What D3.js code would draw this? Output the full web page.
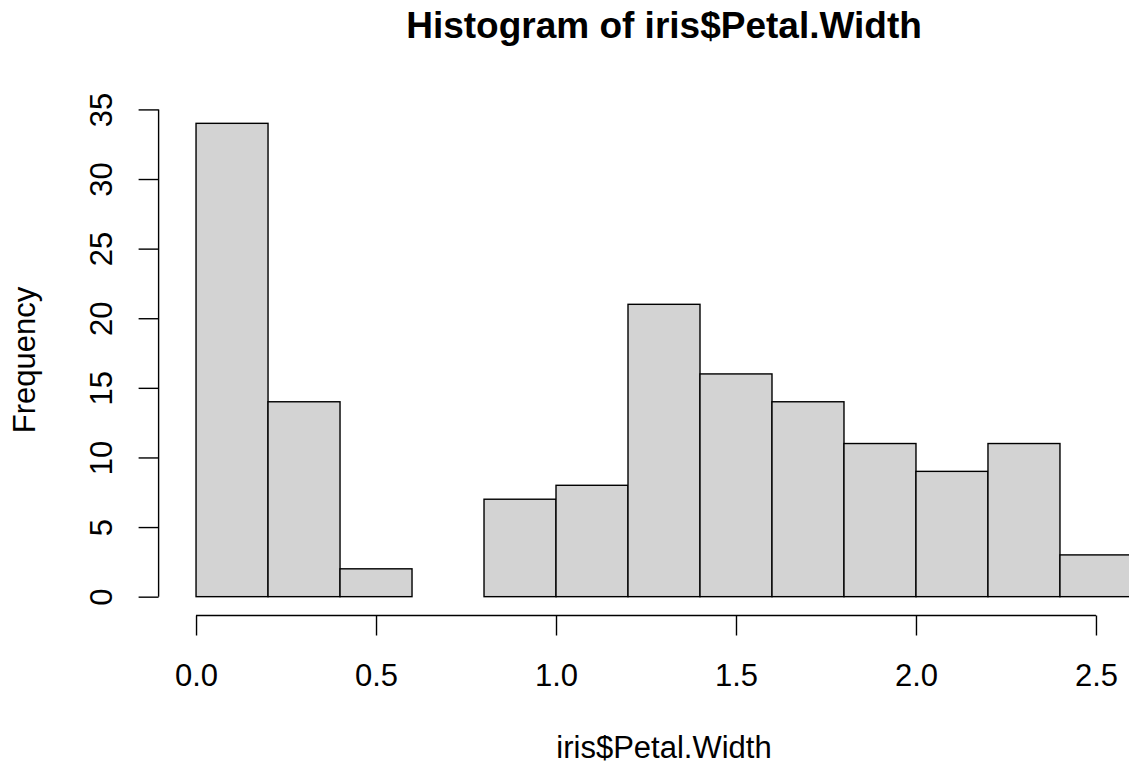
<!DOCTYPE html>
<meta charset="utf-8">
<html lang="en">
<head>
<title>Histogram of iris$Petal.Width</title>
<style>
  body { margin: 0; background: #fff; }
  svg text { font-family: "Liberation Sans", Arial, sans-serif; fill: #000; }
</style>
</head>
<body>
<div id="chart"></div>
<script src="https://d3js.org/d3.v7.min.js"></script>
<script>
// bin edges and counts (hist(iris$Petal.Width))
const breaks = [0, 0.2, 0.4, 0.6, 0.8, 1.0, 1.2, 1.4, 1.6, 1.8, 2.0, 2.2, 2.4, 2.6];
const counts = [34, 14, 2, 0, 7, 8, 21, 16, 14, 11, 9, 11, 3];
const xTicks = [0, 0.5, 1.0, 1.5, 2.0, 2.5];
const yTicks = [0, 5, 10, 15, 20, 25, 30, 35];

const width = 1129, height = 767;
const FONT = 31;

// R-style 4% padding on the data range
const xmin = breaks[0], xmax = breaks[breaks.length - 1];
const ymax = d3.max(counts);
const xpad = (xmax - xmin) * 0.04, ypad = ymax * 0.04;

const x = d3.scaleLinear().domain([xmin - xpad, xmax + xpad]).range([158.6, 1169.4]);
const y = d3.scaleLinear().domain([-ypad, ymax + ypad]).range([615.6, 104.4]);

const svg = d3.select("#chart").append("svg")
    .attr("width", width)
    .attr("height", height);

// bars
svg.append("g").selectAll("rect")
  .data(counts)
  .enter().append("rect")
    .attr("x", (d, i) => x(breaks[i]))
    .attr("y", d => y(d))
    .attr("width", (d, i) => x(breaks[i + 1]) - x(breaks[i]))
    .attr("height", d => y(0) - y(d))
    .attr("fill", "#d3d3d3")
    .attr("stroke", "#000")
    .attr("stroke-width", 1.4);

// x axis
const xAxis = svg.append("g")
    .attr("transform", "translate(0," + 615.5 + ")")
    .call(d3.axisBottom(x).tickValues(xTicks).tickSize(20).tickSizeOuter(0)
      .tickFormat(d3.format(".1f")));
xAxis.select(".domain").attr("d", "M" + x(xTicks[0]) + ",0H" + x(xTicks[xTicks.length - 1]))
    .attr("stroke-width", 1.4);
xAxis.selectAll(".tick line").attr("stroke-width", 1.4);
xAxis.selectAll("text")
    .attr("font-size", FONT)
    .attr("font-family", "Liberation Sans, Arial, sans-serif")
    .attr("dy", 0).attr("y", 70);

// y axis
const yAxis = svg.append("g")
    .attr("transform", "translate(" + 158.6 + ",0)")
    .call(d3.axisLeft(y).tickValues(yTicks).tickSize(20).tickSizeOuter(0).tickFormat(d3.format("d")));
yAxis.select(".domain").attr("d", "M0," + y(yTicks[0]) + "V" + y(yTicks[yTicks.length - 1]))
    .attr("stroke-width", 1.4);
yAxis.selectAll(".tick line").attr("stroke-width", 1.4);
yAxis.selectAll("text")
    .attr("font-size", FONT)
    .attr("font-family", "Liberation Sans, Arial, sans-serif")
    .attr("x", 0).attr("dy", 0).attr("y", 0)
    .attr("text-anchor", "middle")
    .attr("transform", "translate(-47,0) rotate(-90)");

// titles
const cx = (x.range()[0] + x.range()[1]) / 2;
svg.append("text")
    .attr("x", cx).attr("y", 38)
    .attr("text-anchor", "middle")
    .attr("font-size", 37).attr("font-weight", "bold")
    .text("Histogram of iris$Petal.Width");

svg.append("text")
    .attr("x", cx).attr("y", 758)
    .attr("text-anchor", "middle")
    .attr("font-size", FONT)
    .text("iris$Petal.Width");

svg.append("text")
    .attr("transform", "translate(35," + ((y.range()[0] + y.range()[1]) / 2) + ") rotate(-90)")
    .attr("text-anchor", "middle")
    .attr("font-size", FONT)
    .text("Frequency");
</script>
</body>
</html>
